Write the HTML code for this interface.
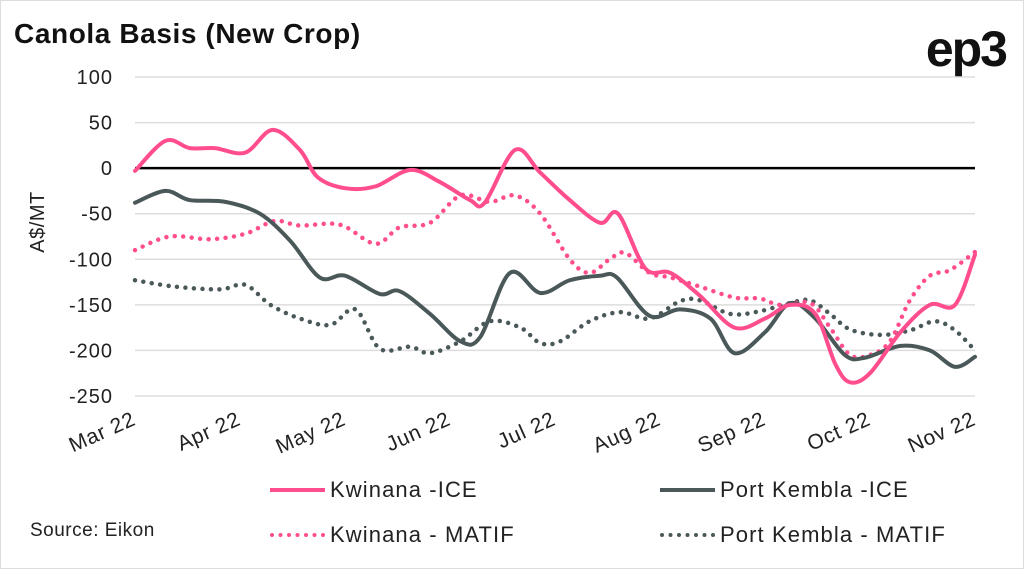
<!DOCTYPE html>
<html><head><meta charset="utf-8"><style>
body{margin:0;background:#fff;font-family:"Liberation Sans",sans-serif}
svg{display:block}
</style></head><body>
<svg id="c" width="1024" height="569" font-family="Liberation Sans, sans-serif">
<rect x="0.5" y="0.5" width="1023" height="568" fill="#fff" stroke="#ddd"/>
<text x="14" y="43" font-size="28" font-weight="bold" fill="#111" letter-spacing="0.6">Canola Basis (New Crop)</text>
<text x="1006" y="66" text-anchor="end" font-size="50" font-weight="bold" fill="#111" letter-spacing="-2">ep3</text>
<text transform="translate(44,222) rotate(-90)" text-anchor="middle" font-size="20" fill="#222" letter-spacing="0.5">A$/MT</text>
<g id="grid"></g><g id="ylab"></g><g id="xlab"></g><g id="lines"></g>
<g font-size="22" fill="#222" letter-spacing="1.1">
<line x1="270" y1="490" x2="325" y2="490" stroke="#ff4d8d" stroke-width="4"/>
<text x="330" y="497">Kwinana -ICE</text>
<line x1="660" y1="490" x2="715" y2="490" stroke="#4a5859" stroke-width="4"/>
<text x="720" y="497">Port Kembla -ICE</text>
<line x1="272" y1="535" x2="325" y2="535" stroke="#ff4d8d" stroke-width="4" stroke-dasharray="0 8.5" stroke-linecap="round"/>
<text x="330" y="542">Kwinana - MATIF</text>
<line x1="662" y1="535" x2="715" y2="535" stroke="#4a5859" stroke-width="4" stroke-dasharray="0 8.5" stroke-linecap="round"/>
<text x="720" y="542">Port Kembla - MATIF</text>
</g>
<text x="30" y="536" font-size="19" fill="#222" letter-spacing="0.5">Source: Eikon</text>
</svg>
<script>
const months=["Mar 22","Apr 22","May 22","Jun 22","Jul 22","Aug 22","Sep 22","Oct 22","Nov 22"];
const yTicks=[100,50,0,-50,-100,-150,-200,-250];
const kwIceT=[0,0.29,0.52,0.76,1.05,1.31,1.57,1.74,2.0,2.29,2.62,2.9,3.19,3.33,3.62,3.86,4.14,4.43,4.6,4.86,5.1,5.38,5.71,6.0,6.24,6.48,6.67,6.81,7.0,7.29,7.57,7.81,8.0];
const kwIceV=[-3,30,22,22,17,42,20,-10,-22,-20,-2,-15,-35,-38,20,-5,-35,-60,-50,-110,-115,-140,-175,-165,-150,-160,-215,-235,-225,-180,-150,-150,-95];
const pkIceT=[0,0.29,0.52,0.86,1.19,1.48,1.76,2.0,2.33,2.52,2.81,3.1,3.29,3.57,3.86,4.14,4.43,4.59,4.9,5.19,5.48,5.71,6.0,6.24,6.48,6.76,6.95,7.29,7.57,7.81,8.0];
const pkIceV=[-38,-25,-35,-37,-50,-80,-120,-118,-138,-135,-160,-190,-185,-115,-137,-123,-118,-120,-162,-155,-165,-203,-180,-148,-165,-205,-208,-195,-200,-218,-207];
const kwMatT=[0,0.33,0.71,1.05,1.33,1.57,1.95,2.29,2.52,2.81,3.1,3.38,3.62,3.86,4.14,4.33,4.52,4.67,4.9,5.1,5.38,5.71,5.95,6.14,6.43,6.62,6.81,7.0,7.19,7.38,7.57,7.76,8.0];
const kwMatV=[-90,-75,-78,-72,-58,-63,-62,-83,-65,-60,-30,-37,-30,-50,-100,-115,-100,-93,-115,-120,-130,-142,-143,-150,-148,-175,-205,-205,-190,-145,-118,-112,-92];
const pkMatT=[0,0.38,0.81,1.05,1.29,1.57,1.86,2.1,2.33,2.62,2.81,3.1,3.38,3.67,3.86,4.05,4.33,4.62,4.9,5.19,5.38,5.67,5.95,6.24,6.43,6.62,6.81,7.1,7.38,7.62,7.81,8.0];
const pkMatV=[-123,-130,-133,-128,-150,-165,-172,-155,-198,-196,-203,-190,-168,-175,-192,-190,-168,-158,-165,-146,-145,-160,-157,-148,-145,-160,-177,-183,-178,-168,-178,-200];

const X0=135,X1=975,Y100=77,Y250=396;
const xs=t=>X0+(X1-X0)*t/8;
const ys=v=>Y100+(100-v)*(Y250-Y100)/350;
const NS="http://www.w3.org/2000/svg";
function mk(tag,parent,attrs){const e=document.createElementNS(NS,tag);for(const k in attrs)e.setAttribute(k,attrs[k]);document.getElementById(parent).appendChild(e);return e;}
yTicks.forEach(v=>{
  const l=mk('line','grid',{x1:X0,x2:X1,y1:ys(v),y2:ys(v),stroke:v===0?'#000':'#ddd','stroke-width':v===0?2.5:1.5});
  
  
  const t=mk('text','ylab',{x:113,y:ys(v)+7,'text-anchor':'end','font-size':20,fill:'#222','letter-spacing':1});
  t.textContent=v;
  
  
});
months.forEach((m,i)=>{
  const x=xs(i)+2,y=424;
  const t=mk('text','xlab',{x:x,y:y,'text-anchor':'end','font-size':21,fill:'#222','letter-spacing':0.8,transform:`rotate(-24 ${x} ${y})`});
  t.textContent=m;
  
  
});
function path(T,V){
  const p=T.map((t,i)=>[xs(t),ys(V[i])]);
  let d=`M${p[0][0]},${p[0][1]}`;
  for(let i=0;i<p.length-1;i++){
    const a=p[Math.max(0,i-1)],b=p[i],c=p[i+1],e=p[Math.min(p.length-1,i+2)];
    d+=` C${b[0]+(c[0]-a[0])/6},${b[1]+(c[1]-a[1])/6} ${c[0]-(e[0]-b[0])/6},${c[1]-(e[1]-b[1])/6} ${c[0]},${c[1]}`;
  }
  return d;
}
function series(T,V,color,dotted,name){
  const a={d:path(T,V),fill:'none',stroke:color,'stroke-width':dotted?4.5:4,'stroke-linecap':'round','stroke-linejoin':'round'};
  if(dotted)a['stroke-dasharray']='0 8.5';
  const e=mk('path','lines',a);
  
  
}
series(pkMatT,pkMatV,'#4a5859',true,'port-kembla-matif-line');
series(kwMatT,kwMatV,'#ff4d8d',true,'kwinana-matif-line');
series(pkIceT,pkIceV,'#4a5859',false,'port-kembla-ice-line');
series(kwIceT,kwIceV,'#ff4d8d',false,'kwinana-ice-line');
</script>
</body></html>
